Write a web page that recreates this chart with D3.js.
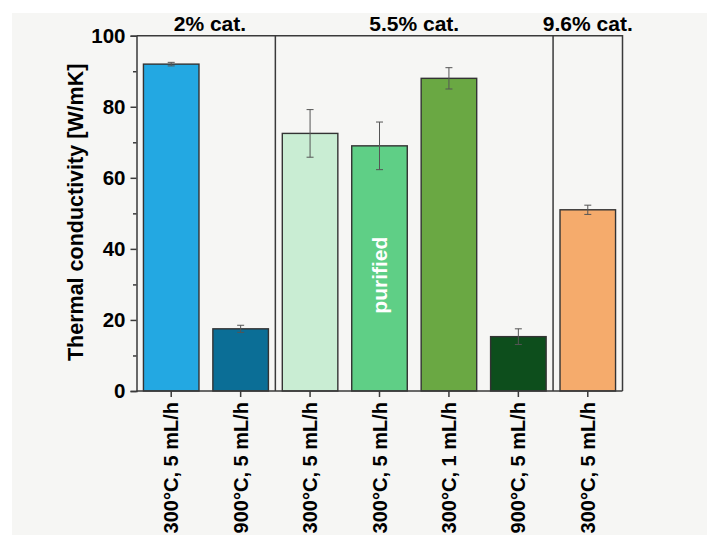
<!DOCTYPE html>
<html>
<head>
<meta charset="utf-8">
<script src="https://cdn.jsdelivr.net/npm/d3@7"></script>
<style>
  html, body { margin: 0; padding: 0; background: #ffffff; }
  svg { display: block; }
  text { font-family: "Liberation Sans", Arial, sans-serif; font-weight: bold; fill: #000; }
</style>
</head>
<body>
<svg id="chart" width="707" height="535"></svg>
<script>
// Samples: synthesis condition labels, grouped by catalyst loading
const categories = [
  "300°C, 5 mL/h",
  "900°C, 5 mL/h",
  "300°C, 5 mL/h",
  "300°C, 5 mL/h",
  "300°C, 1 mL/h",
  "900°C, 5 mL/h",
  "300°C, 5 mL/h"
];
const ids = ["a", "b", "c", "d", "e", "f", "g"];
const conductivity = [92, 17.5, 72.5, 69, 88, 15.3, 51];   // W/mK
const errors = [0.5, 1.0, 6.7, 6.7, 3.0, 2.2, 1.3];
const barColors = ["#23a8e2", "#0b6e96", "#c9edd3", "#5fcf86", "#6aa843", "#0d4e1c", "#f5ab6c"];

// Catalyst-loading groups (first and last sample index of each)
const groupLabels = ["2% cat.", "5.5% cat.", "9.6% cat."];
const groupStart = [0, 2, 6];
const groupEnd = [1, 5, 6];

const yTicks = [0, 20, 40, 60, 80, 100];
const yMinorTicks = [10, 30, 50, 70, 90];
const yTitle = "Thermal conductivity [W/mK]";

// In-bar annotation
const noteText = "purified";
const noteIndex = 3;
const noteValue = 32.6;

const svg = d3.select("#chart");
const W = 707, H = 535;
const plot = { left: 136.5, right: 622.5, top: 35.7, bottom: 391 };

// Page background (light grey canvas)
svg.append("rect").attr("x", 0).attr("y", 0).attr("width", W).attr("height", H).attr("fill", "#ffffff");
svg.append("rect").attr("x", 12).attr("y", 13).attr("width", W - 12).attr("height", H - 13).attr("fill", "#f6f6f4");

const x = d3.scaleBand()
  .domain(ids)
  .range([plot.left, plot.right])
  .paddingInner(0.2)
  .paddingOuter(0.1);

const y = d3.scaleLinear().domain([0, 100]).range([plot.bottom, plot.top]);

const axisColor = "#3a3a3a";

// Bars
svg.append("g").selectAll("rect")
  .data(ids)
  .join("rect")
  .attr("x", d => x(d))
  .attr("width", x.bandwidth())
  .attr("y", (d, i) => y(conductivity[i]))
  .attr("height", (d, i) => y(0) - y(conductivity[i]))
  .attr("fill", (d, i) => barColors[i])
  .attr("stroke", "#333")
  .attr("stroke-width", 1.4);

// Error bars
const eb = svg.append("g").attr("stroke", "#555").attr("stroke-width", 1).attr("fill", "none");
ids.forEach((d, i) => {
  const cx = x(d) + x.bandwidth() / 2;
  const y1 = y(conductivity[i] + errors[i]);
  const y2 = y(conductivity[i] - errors[i]);
  eb.append("line").attr("x1", cx).attr("x2", cx).attr("y1", y1).attr("y2", y2);
  eb.append("line").attr("x1", cx - 3.5).attr("x2", cx + 3.5).attr("y1", y1).attr("y2", y1);
  eb.append("line").attr("x1", cx - 3.5).attr("x2", cx + 3.5).attr("y1", y2).attr("y2", y2);
});

// Frame: top and right borders
svg.append("path")
  .attr("d", `M${plot.left},${y(100)}H${plot.right}V${y(0)}`)
  .attr("fill", "none").attr("stroke", axisColor).attr("stroke-width", 1.5);

// Group separators (between the last bar of one group and the first of the next)
groupStart.slice(1).forEach(s => {
  const prevEnd = x(ids[s - 1]) + x.bandwidth();
  const sx = (prevEnd + x(ids[s])) / 2;
  svg.append("line")
    .attr("x1", sx).attr("x2", sx).attr("y1", y(100)).attr("y2", y(0))
    .attr("stroke", axisColor).attr("stroke-width", 1.5);
});

// Y axis
const yAxis = svg.append("g")
  .attr("transform", `translate(${plot.left},0)`)
  .call(d3.axisLeft(y).tickValues(yTicks).tickSize(6).tickPadding(5).tickFormat(d3.format("d")));
yAxis.select(".domain").attr("stroke", axisColor).attr("stroke-width", 1.5);
yAxis.selectAll(".tick line").attr("stroke", axisColor).attr("stroke-width", 1.5);
yAxis.selectAll(".tick text")
  .attr("font-family", "'Liberation Sans', Arial, sans-serif")
  .attr("font-weight", "bold").attr("font-size", 20.5).attr("fill", "#000");

const yMinor = svg.append("g")
  .attr("transform", `translate(${plot.left},0)`)
  .call(d3.axisLeft(y).tickValues(yMinorTicks).tickSize(3.5).tickFormat(""));
yMinor.select(".domain").remove();
yMinor.selectAll(".tick line").attr("stroke", axisColor).attr("stroke-width", 1.5);

// X axis
const xAxis = svg.append("g")
  .attr("transform", `translate(0,${plot.bottom})`)
  .call(d3.axisBottom(x).tickSize(6).tickFormat(""));
xAxis.select(".domain").attr("stroke", axisColor).attr("stroke-width", 1.5)
  .attr("d", `M${plot.left},0H${plot.right}`);
xAxis.selectAll(".tick line").attr("stroke", axisColor).attr("stroke-width", 1.5);

// Rotated category labels, reading bottom-to-top
svg.append("g").selectAll("text")
  .data(ids)
  .join("text")
  .attr("transform", d => `translate(${x(d) + x.bandwidth() / 2},${plot.bottom + 11}) rotate(-90)`)
  .attr("text-anchor", "end")
  .attr("dy", "0.35em")
  .attr("font-size", 20)
  .text((d, i) => categories[i]);

// Y title
svg.append("text")
  .attr("transform", `translate(75,${(plot.top + plot.bottom) / 2 - 1}) rotate(-90)`)
  .attr("text-anchor", "middle")
  .attr("dy", "0.35em")
  .attr("font-size", 21.5)
  .text(yTitle);

// Group labels above the frame
groupLabels.forEach((g, k) => {
  const a = x(ids[groupStart[k]]) + x.bandwidth() / 2;
  const b = x(ids[groupEnd[k]]) + x.bandwidth() / 2;
  svg.append("text")
    .attr("x", (a + b) / 2 + (k === 0 ? 4 : 0))
    .attr("y", 31)
    .attr("text-anchor", "middle")
    .attr("font-size", 21)
    .text(g);
});

// Annotation inside the purified sample bar
svg.append("text")
  .attr("transform", `translate(${x(ids[noteIndex]) + x.bandwidth() / 2},${y(noteValue)}) rotate(-90)`)
  .attr("text-anchor", "middle")
  .attr("dy", "0.35em")
  .attr("font-size", 21)
  .style("fill", "#ffffff")
  .text(noteText);
</script>
</body>
</html>
